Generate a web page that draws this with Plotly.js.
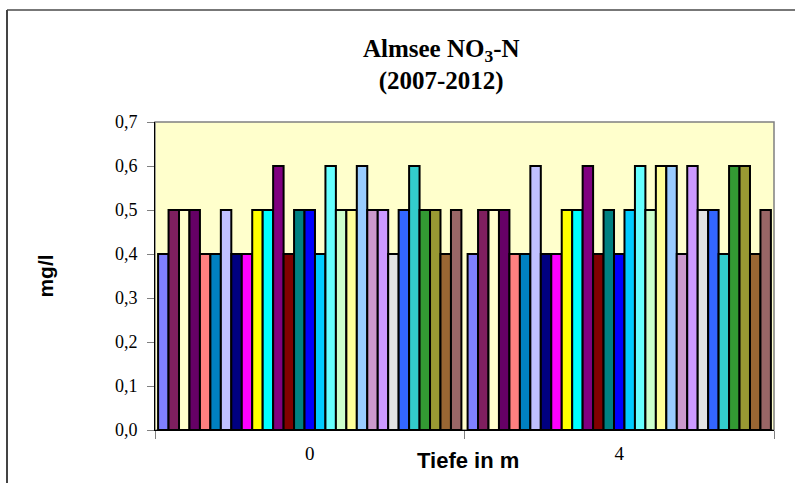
<!DOCTYPE html>
<html>
<head>
<meta charset="utf-8">
<script src="https://cdn.plot.ly/plotly-3.0.1.min.js"></script>
<style>html,body{margin:0;padding:0;background:#fff;}#chart{width:795px;height:483px;}</style>
</head>
<body>
<div id="chart"></div>
<script>
// Categories (depth in m)
const categories = ["0", "4"];
// Values per series at depth 0 m and 4 m
const valuesDepth0 = [0.4,0.5,0.5,0.5,0.4,0.4,0.5,0.4,0.4,0.5,0.5,0.6,0.4,0.5,0.5,0.4,0.6,0.5,0.5,0.6,0.5,0.5,0.4,0.5,0.6,0.5,0.5,0.4,0.5];
const valuesDepth4 = [0.4,0.5,0.5,0.5,0.4,0.4,0.6,0.4,0.4,0.5,0.5,0.6,0.4,0.5,0.4,0.5,0.6,0.5,0.6,0.6,0.4,0.6,0.5,0.5,0.4,0.6,0.6,0.4,0.5];
const seriesNames = valuesDepth0.map((_, i) => "Serie " + (i + 1));
const seriesColors = ["#8080FF","#7F1F5F","#FFFFCC","#660066","#FF8080","#0080C0","#C0C0FF","#000080","#FF00FF","#FFFF00","#00FFFF","#800080","#800000","#008080","#0000FF","#00CCFF","#66FFFF","#CCFFCC","#FFFF99","#99CCFF","#CC99CC","#CC99FF","#E3E3E3","#3366FF","#33CCCC","#339933","#999933","#996633","#996666"];

const traces = seriesNames.map((name, i) => ({
  type: "bar",
  name: name,
  x: categories,
  y: [valuesDepth0[i], valuesDepth4[i]],
  marker: {color: seriesColors[i], line: {color: "#000000", width: 2}},
  hoverinfo: "y"
}));

const layout = {
  width: 795, height: 483,
  margin: {l: 155, r: 21, t: 122, b: 53},
  paper_bgcolor: "#FFFFFF",
  plot_bgcolor: "#FFFFCC",
  showlegend: false,
  barmode: "group",
  bargap: 0.02,
  bargroupgap: 0,
  separators: ",.",
  title: {
    text: "<b>Almsee NO<sub>3</sub>-N<br>(2007-2012)</b>",
    font: {family: "Liberation Serif", size: 25, color: "#000"},
    xref: "container", x: 0.555, xanchor: "center",
    yref: "container", y: 0.882, yanchor: "middle"
  },
  annotations: [{
    text: "<b>Tiefe in m</b>",
    font: {family: "Liberation Sans", size: 22, color: "#000"},
    xref: "paper", yref: "paper",
    x: (468 - 155) / 619, y: (430 - 460) / 308,
    xanchor: "center", yanchor: "middle", showarrow: false
  }],
  xaxis: {
    type: "category",
    showline: true, linecolor: "#000", linewidth: 1,
    ticks: "outside", tickson: "boundaries", ticklen: 8, tickcolor: "#808080",
    tickfont: {family: "Liberation Serif", size: 19, color: "#000"},
    ticklabelstandoff: 6,
    showgrid: false, zeroline: false
  },
  yaxis: {
    range: [0, 0.7], dtick: 0.1, tickformat: ".1f",
    showline: true, linecolor: "#000", linewidth: 1,
    ticks: "outside", ticklen: 7, tickcolor: "#808080",
    tickfont: {family: "Liberation Serif", size: 18, color: "#000"},
    ticklabelstandoff: 6,
    showgrid: false, zeroline: false,
    title: {text: "<b>mg/l</b>", font: {family: "Liberation Sans", size: 21, color: "#000"}, standoff: 55}
  },
  shapes: [
    {type: "rect", xref: "paper", yref: "paper", x0: 0, x1: 1, y0: 0, y1: 1, line: {color: "#808080", width: 1.5}, layer: "below"},
    {type: "line", xref: "paper", yref: "paper", x0: (7 - 155) / 619, x1: 1.2, y0: (430 - 10) / 308, y1: (430 - 10) / 308, line: {color: "#777", width: 2}},
    {type: "line", xref: "paper", yref: "paper", x0: (7 - 155) / 619, x1: (7 - 155) / 619, y0: (430 - 10) / 308, y1: -0.3, line: {color: "#444", width: 2}}
  ]
};

Plotly.newPlot("chart", traces, layout, {displayModeBar: false, staticPlot: true});
</script>
</body>
</html>
